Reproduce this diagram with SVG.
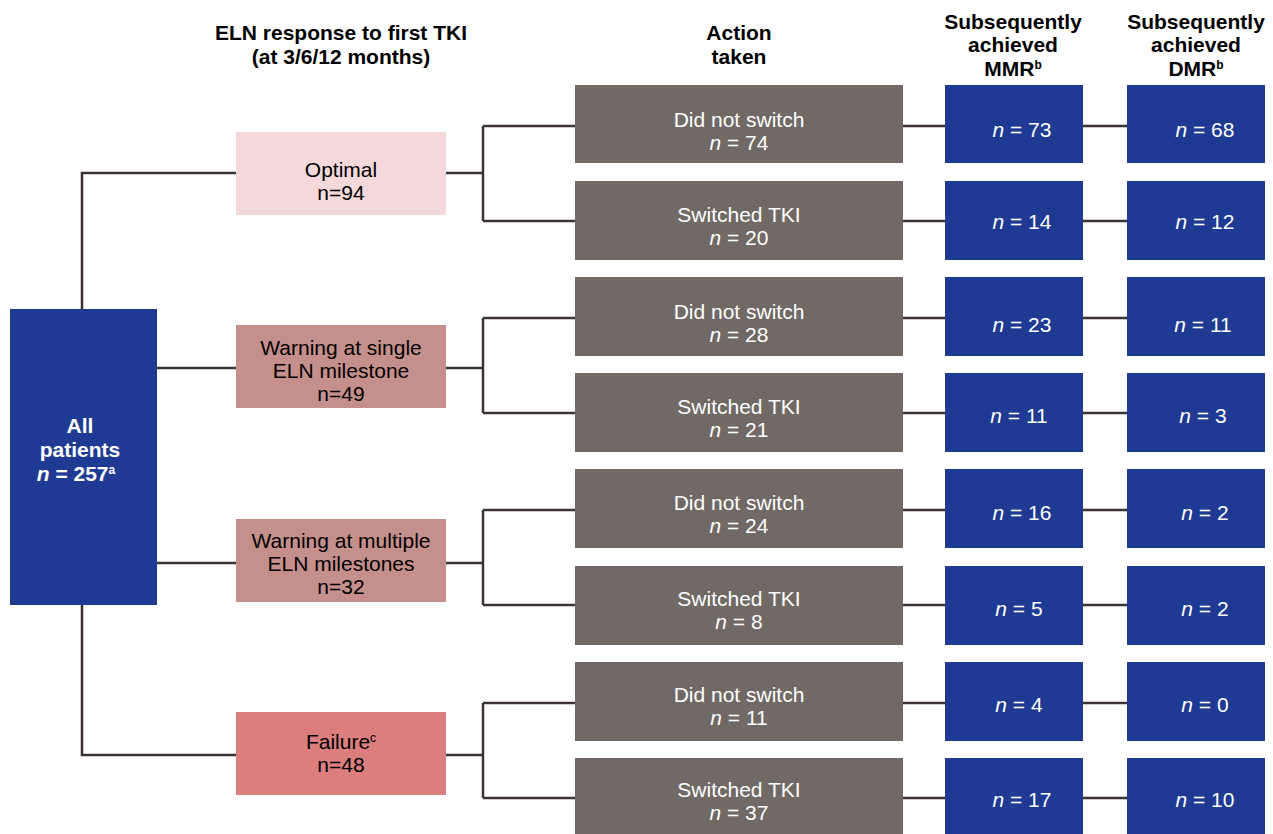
<svg xmlns="http://www.w3.org/2000/svg" width="1273" height="834" viewBox="0 0 1273 834">
<style>
text{font-family:"Liberation Sans Narrow","Liberation Sans",Arial,sans-serif;font-size:21px;text-anchor:middle}
.h{font-weight:bold;fill:#000}
.d{fill:#000}
.w{fill:#fff}
.c{fill:none;stroke:#3a3234;stroke-width:2.5}
.blue{fill:#1f3a93}
.grey{fill:#716966}
.sup{font-size:12px}
</style>
<rect width="1273" height="834" fill="#fff"/>
<g id="headers">
<text class="h" x="341" y="40">ELN response to first TKI</text>
<text class="h" x="341" y="64">(at 3/6/12 months)</text>
<text class="h" x="739" y="40">Action</text>
<text class="h" x="739" y="64">taken</text>
<text class="h" x="1013" y="29">Subsequently</text>
<text class="h" x="1013" y="52">achieved</text>
<text class="h" x="1013" y="76">MMR<tspan class="sup" dy="-7">b</tspan></text>
<text class="h" x="1196" y="29">Subsequently</text>
<text class="h" x="1196" y="52">achieved</text>
<text class="h" x="1196" y="76">DMR<tspan class="sup" dy="-7">b</tspan></text>
</g>
<g id="connectors">
<path class="c" d="M82,309V173H236M82,605V755H236M157,368H236M157,563H236"/>
<path class="c" d="M446,173H483M483,126V221M483,126H575M483,221H575"/>
<path class="c" d="M446,368H483M483,318V413M483,318H575M483,413H575"/>
<path class="c" d="M446,563H483M483,510V605M483,510H575M483,605H575"/>
<path class="c" d="M446,755H483M483,703V798M483,703H575M483,798H575"/>
<path class="c" d="M903,126H945M903,221H945M903,318H945M903,413H945M903,510H945M903,605H945M903,703H945M903,798H945"/>
<path class="c" d="M1083,126H1127M1083,221H1127M1083,318H1127M1083,413H1127M1083,510H1127M1083,605H1127M1083,703H1127M1083,798H1127"/>
</g>
<g id="all">
<rect class="blue" x="10" y="309" width="147" height="296"/>
<text class="h w" x="80" y="433">All</text>
<text class="h w" x="80" y="457">patients</text>
<text class="h w" x="76" y="481"><tspan font-style="italic">n</tspan> = 257<tspan class="sup" dy="-7">a</tspan></text>
</g>
<g id="optimal">
<rect x="236" y="132" width="210" height="83" fill="#f5d9da"/>
<text class="d" x="341" y="177">Optimal</text>
<text class="d" x="341" y="200">n=94</text>
</g>
<g id="warn1">
<rect x="236" y="325" width="210" height="83" fill="#c58f8c"/>
<text class="d" x="341" y="355">Warning at single</text>
<text class="d" x="341" y="378">ELN milestone</text>
<text class="d" x="341" y="401">n=49</text>
</g>
<g id="warn2">
<rect x="236" y="519" width="210" height="83" fill="#c58f8c"/>
<text class="d" x="341" y="548">Warning at multiple</text>
<text class="d" x="341" y="571">ELN milestones</text>
<text class="d" x="341" y="594">n=32</text>
</g>
<g id="failure">
<rect x="236" y="712" width="210" height="83" fill="#db7e7d"/>
<text class="d" x="341" y="749">Failure<tspan class="sup" dy="-7">c</tspan></text>
<text class="d" x="341" y="772">n=48</text>
</g>
<g id="act1"><rect class="grey" x="575" y="85" width="328" height="78"/><text class="w" x="739" y="127">Did not switch</text><text class="w" x="739" y="150"><tspan font-style="italic">n</tspan> = 74</text></g>
<g id="act2"><rect class="grey" x="575" y="181" width="328" height="79"/><text class="w" x="739" y="222">Switched TKI</text><text class="w" x="739" y="245"><tspan font-style="italic">n</tspan> = 20</text></g>
<g id="act3"><rect class="grey" x="575" y="277" width="328" height="79"/><text class="w" x="739" y="319">Did not switch</text><text class="w" x="739" y="342"><tspan font-style="italic">n</tspan> = 28</text></g>
<g id="act4"><rect class="grey" x="575" y="373" width="328" height="79"/><text class="w" x="739" y="414">Switched TKI</text><text class="w" x="739" y="437"><tspan font-style="italic">n</tspan> = 21</text></g>
<g id="act5"><rect class="grey" x="575" y="469" width="328" height="79"/><text class="w" x="739" y="510">Did not switch</text><text class="w" x="739" y="533"><tspan font-style="italic">n</tspan> = 24</text></g>
<g id="act6"><rect class="grey" x="575" y="566" width="328" height="79"/><text class="w" x="739" y="606">Switched TKI</text><text class="w" x="739" y="629"><tspan font-style="italic">n</tspan> = 8</text></g>
<g id="act7"><rect class="grey" x="575" y="662" width="328" height="79"/><text class="w" x="739" y="702">Did not switch</text><text class="w" x="739" y="725"><tspan font-style="italic">n</tspan> = 11</text></g>
<g id="act8"><rect class="grey" x="575" y="758" width="328" height="76"/><text class="w" x="739" y="797">Switched TKI</text><text class="w" x="739" y="820"><tspan font-style="italic">n</tspan> = 37</text></g>
<g id="mmr1"><rect class="blue" x="945" y="85" width="138" height="78"/><text class="w" x="1022" y="137"><tspan font-style="italic">n</tspan> = 73</text></g>
<g id="mmr2"><rect class="blue" x="945" y="181" width="138" height="79"/><text class="w" x="1022" y="229"><tspan font-style="italic">n</tspan> = 14</text></g>
<g id="mmr3"><rect class="blue" x="945" y="277" width="138" height="79"/><text class="w" x="1022" y="332"><tspan font-style="italic">n</tspan> = 23</text></g>
<g id="mmr4"><rect class="blue" x="945" y="373" width="138" height="79"/><text class="w" x="1019" y="423"><tspan font-style="italic">n</tspan> = 11</text></g>
<g id="mmr5"><rect class="blue" x="945" y="469" width="138" height="79"/><text class="w" x="1022" y="520"><tspan font-style="italic">n</tspan> = 16</text></g>
<g id="mmr6"><rect class="blue" x="945" y="566" width="138" height="79"/><text class="w" x="1019" y="616"><tspan font-style="italic">n</tspan> = 5</text></g>
<g id="mmr7"><rect class="blue" x="945" y="662" width="138" height="79"/><text class="w" x="1019" y="712"><tspan font-style="italic">n</tspan> = 4</text></g>
<g id="mmr8"><rect class="blue" x="945" y="758" width="138" height="76"/><text class="w" x="1022" y="807"><tspan font-style="italic">n</tspan> = 17</text></g>
<g id="dmr1"><rect class="blue" x="1127" y="85" width="138" height="78"/><text class="w" x="1205" y="137"><tspan font-style="italic">n</tspan> = 68</text></g>
<g id="dmr2"><rect class="blue" x="1127" y="181" width="138" height="79"/><text class="w" x="1205" y="229"><tspan font-style="italic">n</tspan> = 12</text></g>
<g id="dmr3"><rect class="blue" x="1127" y="277" width="138" height="79"/><text class="w" x="1203" y="332"><tspan font-style="italic">n</tspan> = 11</text></g>
<g id="dmr4"><rect class="blue" x="1127" y="373" width="138" height="79"/><text class="w" x="1203" y="423"><tspan font-style="italic">n</tspan> = 3</text></g>
<g id="dmr5"><rect class="blue" x="1127" y="469" width="138" height="79"/><text class="w" x="1205" y="520"><tspan font-style="italic">n</tspan> = 2</text></g>
<g id="dmr6"><rect class="blue" x="1127" y="566" width="138" height="79"/><text class="w" x="1205" y="616"><tspan font-style="italic">n</tspan> = 2</text></g>
<g id="dmr7"><rect class="blue" x="1127" y="662" width="138" height="79"/><text class="w" x="1205" y="712"><tspan font-style="italic">n</tspan> = 0</text></g>
<g id="dmr8"><rect class="blue" x="1127" y="758" width="138" height="76"/><text class="w" x="1205" y="807"><tspan font-style="italic">n</tspan> = 10</text></g>
</svg>
